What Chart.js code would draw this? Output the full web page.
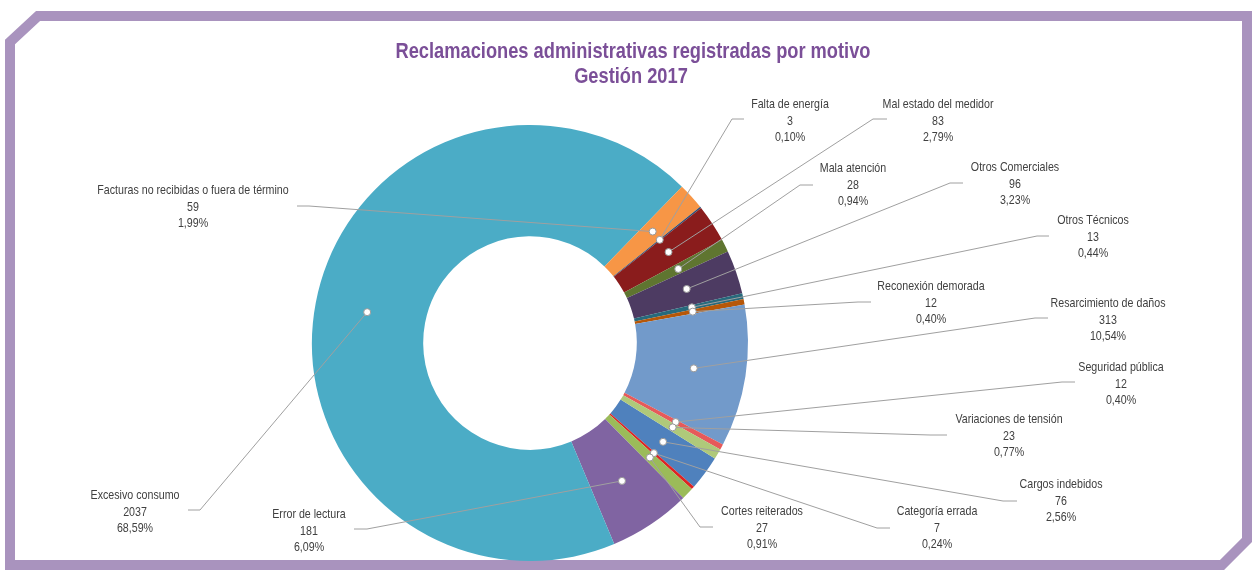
<!DOCTYPE html>
<html>
<head>
<meta charset="utf-8">
<script src="https://cdn.jsdelivr.net/npm/chart.js@4"></script>
<style>
  html, body { margin: 0; padding: 0; background: #fff; }
  canvas { display: block; }
</style>
</head>
<body>
<canvas id="myChart" width="1253" height="570"></canvas>
<script>
'use strict';

// categorias en el orden de la serie (alfabetico, como en la hoja)
const motivos = [
    'Cargos indebidos', 'Categoría errada', 'Cortes reiterados', 'Error de lectura',
    'Excesivo consumo', 'Facturas no recibidas o fuera de término', 'Falta de energía',
    'Mal estado del medidor', 'Mala atención', 'Otros Comerciales', 'Otros Técnicos',
    'Reconexión demorada', 'Resarcimiento de daños', 'Seguridad pública', 'Variaciones de tensión'
];
const reclamaciones = [76, 7, 27, 181, 2037, 59, 3, 83, 28, 96, 13, 12, 313, 12, 23];

const colores = [
    '#4f81bd', '#de2424', '#9bbb59', '#8064a2', '#4bacc6', '#f79646', '#2c4d75',
    '#8a1c1c', '#5f7530', '#4d3b62', '#276a7c', '#b65708', '#729aca', '#e65a5a', '#afc97a'
];

// posicion de cada etiqueta: [x texto, y primera linea, x codo, x final, y linea]
const etiquetas = [
    [1061, 484, 1003, 1017, 501],
    [937, 511, 877, 890, 528],
    [762, 511, 700, 713, 527],
    [309, 514, 367, 354, 529],
    [135, 495, 200, 188, 510],
    [193, 190, 309, 297, 206],
    [790, 104, 732, 744, 119],
    [938, 104, 873, 887, 119],
    [853, 168, 800, 813, 185],
    [1015, 167, 950, 963, 183],
    [1093, 220, 1037, 1049, 236],
    [931, 286, 858, 871, 302],
    [1108, 303, 1035, 1048, 318],
    [1121, 367, 1062, 1075, 382],
    [1009, 419, 930, 947, 435]
];

const titulo = ['Reclamaciones administrativas registradas por motivo', 'Gestión 2017'];

const total = reclamaciones.reduce((a, b) => a + b, 0);
const fuente = '"Liberation Sans", Arial, sans-serif';

// texto angosto: se comprime en horizontal como una fuente "narrow"
function textoAngosto(c, txt, x, y, k) {
    c.save();
    c.translate(x, y);
    c.scale(k, 1);
    c.fillText(txt, 0, 0);
    c.restore();
}

const marco = {
    id: 'marco',
    beforeDraw(chart) {
        const c = chart.ctx;
        c.save();
        c.fillStyle = '#fff';
        c.fillRect(0, 0, chart.width, chart.height);
        c.strokeStyle = '#a993be';
        c.lineWidth = 10;
        c.lineJoin = 'miter';
        c.beginPath();
        c.moveTo(10, 42);
        c.lineTo(38, 16);
        c.lineTo(1247, 16);
        c.lineTo(1247, 540);
        c.lineTo(1222, 565);
        c.lineTo(10, 565);
        c.closePath();
        c.stroke();

        c.fillStyle = '#7b4f98';
        c.font = 'bold 22px ' + fuente;
        c.textAlign = 'center';
        c.textBaseline = 'middle';
        textoAngosto(c, titulo[0], 633, 52, 0.83);
        textoAngosto(c, titulo[1], 631, 77, 0.83);
        c.restore();
    }
};

const rotulos = {
    id: 'rotulos',
    afterDraw(chart) {
        const c = chart.ctx;
        const arcs = chart.getDatasetMeta(0).data;
        c.save();
        c.font = '13.5px ' + fuente;
        c.textAlign = 'center';
        c.textBaseline = 'middle';
        arcs.forEach((arc, i) => {
            const p = arc.getProps(['x', 'y', 'startAngle', 'endAngle', 'innerRadius', 'outerRadius'], true);
            const ang = (p.startAngle + p.endAngle) / 2;
            const r = p.innerRadius + (p.outerRadius - p.innerRadius) * 0.53;
            const px = p.x + Math.cos(ang) * r;
            const py = p.y + Math.sin(ang) * r;
            const [tx, ty, ex, fx, ly] = etiquetas[i];

            c.strokeStyle = '#a0a0a0';
            c.lineWidth = 1;
            c.beginPath();
            c.moveTo(px, py);
            c.lineTo(ex, ly);
            c.lineTo(fx, ly);
            c.stroke();

            c.fillStyle = '#fff';
            c.strokeStyle = '#999';
            c.beginPath();
            c.arc(px, py, 3.5, 0, Math.PI * 2);
            c.fill();
            c.stroke();

            const pct = (reclamaciones[i] / total * 100).toFixed(2).replace('.', ',') + '%';
            c.fillStyle = '#404040';
            textoAngosto(c, motivos[i], tx, ty, 0.79);
            textoAngosto(c, String(reclamaciones[i]), tx, ty + 17, 0.79);
            textoAngosto(c, pct, tx, ty + 33, 0.79);
        });
        c.restore();
    }
};

const ctx = document.getElementById('myChart').getContext('2d');
const myChart = new Chart(ctx, {
    type: 'doughnut',
    data: {
        labels: motivos,
        datasets: [{
            data: reclamaciones,
            backgroundColor: colores,
            borderWidth: 0
        }]
    },
    options: {
        responsive: false,
        animation: false,
        rotation: 122,
        cutout: '49%',
        layout: {
            padding: { left: 312, right: 505, top: 125, bottom: 9 }
        },
        plugins: {
            legend: { display: false },
            tooltip: { enabled: false }
        }
    },
    plugins: [marco, rotulos]
});
</script>
</body>
</html>
